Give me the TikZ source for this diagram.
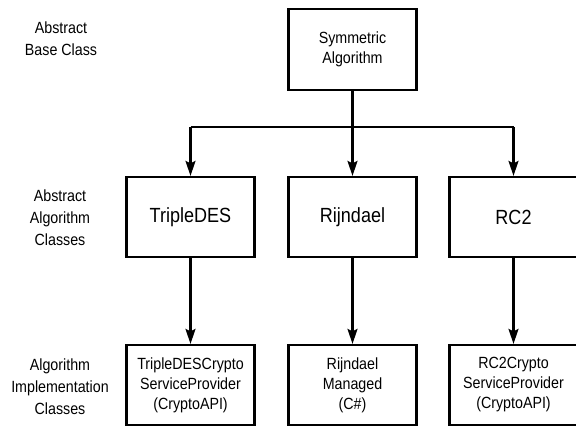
\documentclass[tikz,border=0pt]{standalone}
\usepackage{fontspec}
\setmainfont{Liberation Sans}[FakeStretch=0.88]
\usetikzlibrary{arrows.meta}
\begin{document}
\begin{tikzpicture}[x=1pt,y=-1pt,
  cls/.style={draw, line width=2.2pt, minimum width=128pt, minimum height=80pt, inner sep=0pt, align=center},
  big/.style={cls, font=\fontsize{20.5}{24}\selectfont},
  small/.style={cls, font=\fontsize{16.2}{20}\selectfont},
  lbl/.style={align=center, font=\fontsize{16.2}{22}\selectfont},
  conn/.style={line width=2.2pt},
  arr/.style={conn, -{Stealth[length=15pt, width=10pt, inset=2.5pt]}}]
\path[use as bounding box, clip] (0,0) rectangle (576,428);
% left labels
\node[lbl] (l1) at (61,39) {Abstract\\Base Class};
\node[lbl] (l2) at (60,218) {Abstract\\Algorithm\\Classes};
\node[lbl] (l3) at (60,387) {Algorithm\\Implementation\\Classes};
% boxes
\node[small, minimum height=81pt] (top) at (352.5,49.5) {Symmetric\\Algorithm};
\node[big] (t1) at (190.5,217) {TripleDES};
\node[big] (t2) at (352.5,217) {Rijndael};
\node[big] (t3) at (513.5,217) {RC2};
\node[small] (b1) at (190.5,385) {TripleDESCrypto\\ServiceProvider\\(CryptoAPI)};
\node[small] (b2) at (352.5,385) {Rijndael\\Managed\\(C\#)};
\node[small] (b3) at (513.5,385) {RC2Crypto\\ServiceProvider\\(CryptoAPI)};
% connectors
\coordinate (j1) at (190.5,127);
\coordinate (j2) at (352.5,127);
\coordinate (j3) at (513.5,127);
\draw[conn] (top.south) -- (j2);
\draw[conn] (j1) -- (j3);
\draw[arr] (j1) -- (t1.north);
\draw[arr] (j2) -- (t2.north);
\draw[arr] (j3) -- (t3.north);
\draw[arr] (t1.south) -- (b1.north);
\draw[arr] (t2.south) -- (b2.north);
\draw[arr] (t3.south) -- (b3.north);
\end{tikzpicture}
\end{document}
